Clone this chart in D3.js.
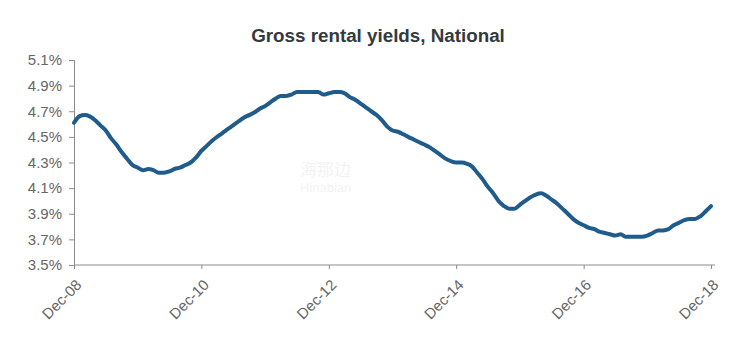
<!DOCTYPE html>
<html>
<head>
<meta charset="utf-8">
<script src="https://cdn.jsdelivr.net/npm/d3@7"></script>
<style>
  body { margin: 0; background: #fff; }
  svg { display: block; }
</style>
</head>
<body>
<svg id="chart" width="749" height="351"></svg>
<script>
// Gross rental yield (%), monthly from Dec-08 to Dec-18
const startMonth = "2008-12";
const yieldValues = [
  4.61, 4.66, 4.67, 4.66, 4.63, 4.59, 4.55, 4.49, 4.44, 4.38, 4.33, 4.28,
  4.26, 4.24, 4.25, 4.24, 4.22, 4.22, 4.23, 4.25, 4.26, 4.28, 4.30, 4.34,
  4.39, 4.43, 4.47, 4.50, 4.53, 4.56, 4.59, 4.62, 4.65, 4.67, 4.69, 4.72,
  4.74, 4.77, 4.80, 4.82, 4.82, 4.83, 4.85, 4.85, 4.85, 4.85, 4.85, 4.83,
  4.84, 4.85, 4.85, 4.84, 4.81, 4.79, 4.76, 4.73, 4.70, 4.67, 4.63, 4.58,
  4.55, 4.54, 4.52, 4.50, 4.48, 4.46, 4.44, 4.42, 4.39, 4.36, 4.33, 4.31,
  4.30, 4.30, 4.29, 4.27, 4.22, 4.17, 4.11, 4.06, 4.00, 3.96, 3.94, 3.94,
  3.97, 4.00, 4.03, 4.05, 4.06, 4.04, 4.01, 3.98, 3.94, 3.90, 3.86, 3.83,
  3.81, 3.79, 3.78, 3.76, 3.75, 3.74, 3.73, 3.74, 3.72, 3.72, 3.72, 3.72,
  3.73, 3.75, 3.77, 3.77, 3.78, 3.81, 3.83, 3.85, 3.86, 3.86, 3.88, 3.92,
  3.96
];
const yTicks = [3.5, 3.7, 3.9, 4.1, 4.3, 4.5, 4.7, 4.9, 5.1];
const xTickLabels = ["Dec-08", "Dec-10", "Dec-12", "Dec-14", "Dec-16", "Dec-18"];

const font_family = "Arial, 'Liberation Sans', sans-serif";
const tick_color = "#666";
const axis_color = "#8c8c8c";
const line_color = "#1f5c8b";

const svg = d3.select("#chart");
const margin = { top: 60, right: 34, bottom: 86, left: 74 };
const width = 711 - margin.left;
const height = 265 - margin.top;

const parseMonth = d3.timeParse("%Y-%m");
const start = parseMonth(startMonth);
const data = yieldValues.map((v, i) => ({ date: d3.timeMonth.offset(start, i), value: v }));
const tickDates = xTickLabels.map((d, i) => d3.timeMonth.offset(start, i * 24));

const x = d3.scaleTime()
  .domain([start, data[data.length - 1].date])
  .range([0, width]);

const y = d3.scaleLinear()
  .domain([3.5, 5.1])
  .range([height, 0]);

// Title
svg.append("text")
  .attr("x", 378)
  .attr("y", 42)
  .attr("text-anchor", "middle")
  .attr("font-family", font_family)
  .attr("font-size", 18.8)
  .attr("font-weight", "bold")
  .attr("fill", "#333a40")
  .text("Gross rental yields, National");

const g = svg.append("g")
  .attr("transform", `translate(${margin.left},${margin.top})`);

// Faint watermark
const wm = g.append("g").attr("fill", "#f3f3f3").attr("font-family", "'Noto Sans CJK SC', sans-serif");
wm.append("text").attr("x", 226).attr("y", 116).attr("font-size", 17).text("海那边");
wm.append("text").attr("x", 226).attr("y", 132).attr("font-size", 13).attr("font-family", font_family).text("Hinabian");

// Y axis
const yAxis = g.append("g")
  .call(d3.axisLeft(y).tickValues(yTicks).tickSize(5).tickPadding(7)
    .tickFormat(d => d.toFixed(1) + "%"));
yAxis.select(".domain").attr("stroke", axis_color);
yAxis.selectAll(".tick line").attr("stroke", axis_color);
yAxis.selectAll("text")
  .attr("fill", tick_color)
  .style("font-family", font_family)
  .style("font-size", "15px");

// X axis
const xAxis = g.append("g")
  .attr("transform", `translate(0,${height})`)
  .call(d3.axisBottom(x).tickValues(tickDates).tickSize(4).tickSizeOuter(0)
    .tickFormat((d, i) => xTickLabels[i]));
xAxis.select(".domain").attr("stroke", axis_color).attr("d", `M0,0H${width + 4}`);
xAxis.selectAll(".tick line").attr("stroke", axis_color);
xAxis.selectAll("text")
  .attr("fill", tick_color)
  .style("font-family", font_family)
  .style("font-size", "15px")
  .attr("text-anchor", "end")
  .attr("x", 0)
  .attr("y", 0)
  .attr("dy", "0.75em")
  .attr("transform", "translate(0,13) rotate(-45)");

// Line
const line = d3.line()
  .x(d => x(d.date))
  .y(d => y(d.value))
  .curve(d3.curveMonotoneX);

g.append("path")
  .datum(data)
  .attr("fill", "none")
  .attr("stroke", line_color)
  .attr("stroke-width", 4)
  .attr("stroke-linejoin", "round")
  .attr("stroke-linecap", "round")
  .attr("d", line);
</script>
</body>
</html>
